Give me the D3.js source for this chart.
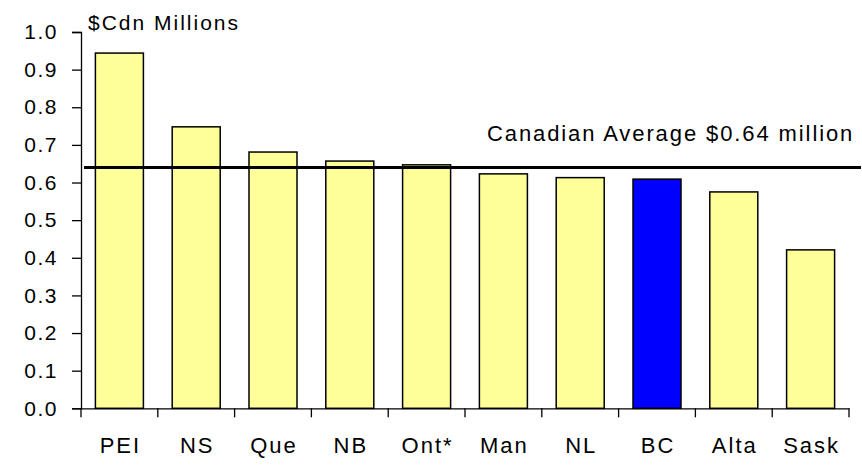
<!DOCTYPE html>
<html lang="en">
<head>
    <meta charset="UTF-8">
    <title>Average value by province</title>
    <script src="https://d3js.org/d3.v7.min.js"></script>
    <style>
        body {
            margin: 0;
            background: #fff;
            font-family: "Liberation Sans", Arial, sans-serif;
        }
        .bar {
            stroke: #000;
            stroke-width: 1.5;
        }
    </style>
</head>
<body>
    <svg id="chart" width="862" height="466"></svg>

    <script>
        // Data
        const provinces = ["PEI", "NS", "Que", "NB", "Ont*", "Man", "NL", "BC", "Alta", "Sask"];
        const values = [0.944, 0.748, 0.681, 0.657, 0.647, 0.623, 0.613, 0.609, 0.575, 0.421];
        const yTicks = [0, 0.1, 0.2, 0.3, 0.4, 0.5, 0.6, 0.7, 0.8, 0.9, 1.0];
        const highlight = "BC";
        const average = 0.64;
        const averageLabel = "Canadian Average $0.64 million";
        const unitLabel = "$Cdn Millions";

        const svg = d3.select("#chart");
        const plotLeft = 81, plotRight = 849, plotTop = 32, plotBottom = 408.3;

        const x = d3.scaleBand()
            .domain(provinces)
            .range([plotLeft, plotRight])
            .paddingInner(0.375)
            .paddingOuter(0.1875);

        const y = d3.scaleLinear()
            .domain([0, 1])
            .range([plotBottom, plotTop]);

        const data = provinces.map((p, i) => ({ name: p, value: values[i] }));

        // Bars
        svg.selectAll(".bar")
            .data(data)
            .enter()
            .append("rect")
            .attr("class", "bar")
            .attr("x", d => x(d.name))
            .attr("y", d => y(d.value))
            .attr("width", x.bandwidth())
            .attr("height", d => y(0) - y(d.value))
            .attr("fill", d => d.name === highlight ? "#0000ff" : "#ffff99");

        // Y axis
        const yAxis = svg.append("g")
            .attr("transform", `translate(${plotLeft},0)`)
            .call(d3.axisLeft(y).tickValues(yTicks).tickFormat(d3.format(".1f")).tickSize(9).tickPadding(14));
        yAxis.select(".domain").attr("stroke", "#000").attr("stroke-width", 1.3);
        yAxis.selectAll(".tick line").attr("stroke", "#000").attr("stroke-width", 1.3);
        yAxis.selectAll(".tick text")
            .attr("font-family", "'Liberation Sans', Arial, sans-serif")
            .attr("font-size", 21)
            .attr("letter-spacing", "1.5px")
            .attr("fill", "#000");

        // X axis: labels centred on bars, ticks at band boundaries
        const xAxis = svg.append("g")
            .attr("transform", `translate(0,${plotBottom})`)
            .call(d3.axisBottom(x).tickSize(0).tickPadding(29));
        xAxis.select(".domain").attr("stroke", "#000").attr("stroke-width", 1.3);
        xAxis.selectAll(".tick text")
            .attr("font-family", "'Liberation Sans', Arial, sans-serif")
            .attr("font-size", 22)
            .attr("letter-spacing", "2px")
            .attr("dx", "1px")
            .attr("fill", "#000");

        const step = x.step();
        const boundaries = d3.range(provinces.length + 1).map(i => plotLeft + i * step);
        xAxis.selectAll(".bound")
            .data(boundaries)
            .enter()
            .append("line")
            .attr("class", "bound")
            .attr("x1", d => d)
            .attr("x2", d => d)
            .attr("y1", 0)
            .attr("y2", 9)
            .attr("stroke", "#000")
            .attr("stroke-width", 1.3);

        // Average line
        svg.append("line")
            .attr("x1", plotLeft + 3)
            .attr("x2", 861)
            .attr("y1", y(average))
            .attr("y2", y(average))
            .attr("stroke", "#000")
            .attr("stroke-width", 3);

        svg.append("text")
            .attr("x", 487)
            .attr("y", 141)
            .attr("font-size", 22)
            .attr("letter-spacing", "1.9px")
            .text(averageLabel);

        // Unit label
        svg.append("text")
            .attr("x", 88)
            .attr("y", 30)
            .attr("font-size", 21)
            .attr("letter-spacing", "2px")
            .text(unitLabel);
    </script>
</body>
</html>
